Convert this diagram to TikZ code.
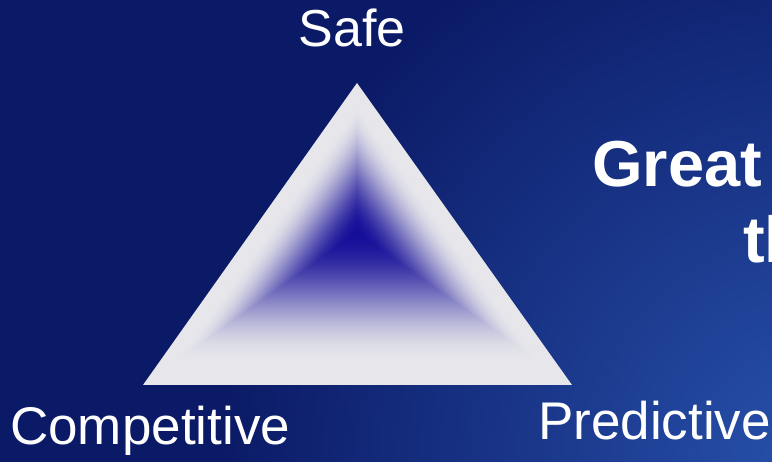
\documentclass[tikz,border=0pt]{standalone}
\usepackage{fontspec}
\setmainfont{Liberation Sans}
\usetikzlibrary{calc}
\definecolor{navy}{RGB}{11,26,102}
\definecolor{glowblue}{RGB}{40,82,172}
\definecolor{coreblue}{RGB}{22,14,152}
\definecolor{edgegrey}{RGB}{230,230,235}

\begin{document}
\begin{tikzpicture}[x=1pt,y=-1pt,
    wordtext/.style={text=white,inner sep=0pt,anchor=base west,font=\fontsize{53}{62}\selectfont},
    headtext/.style={wordtext,font=\fontsize{65}{76}\selectfont\bfseries}]

    \useasboundingbox (0,0) rectangle (772,462);
    \clip (0,0) rectangle (772,462);
    % background
    \fill[navy] (0,0) rectangle (772,462);
    \shade[inner color=glowblue,outer color=navy] (820,470) circle (600pt);

    \coordinate (0) at (357,83);
    \coordinate (1) at (143,385);
    \coordinate (2) at (572,385);
    \coordinate (3) at (357,233);
    % triangle
    \foreach \i in {0,...,120}{
        \pgfmathsetmacro\t{1-\i/120}
        \pgfmathsetmacro\s{min(1,\t/0.85)}
        \pgfmathsetmacro\p{100*(3*\s*\s-2*\s*\s*\s)}
        \fill[edgegrey!\p!coreblue] ($(3)!\t!(0)$) -- ($(3)!\t!(1)$) -- ($(3)!\t!(2)$) -- cycle;
    }

    \node[wordtext,anchor=base,font=\fontsize{52}{62}\selectfont] (4) at (352,47) {Safe};
    \node[wordtext] (5) at (10,445) {Competitive};
    \node[wordtext] (6) at (538,440) {Predictive};
    \node[headtext] (7) at (592,187) {Great};
    \node[headtext] (8) at (743,263) {th};
\end{tikzpicture}
\end{document}
